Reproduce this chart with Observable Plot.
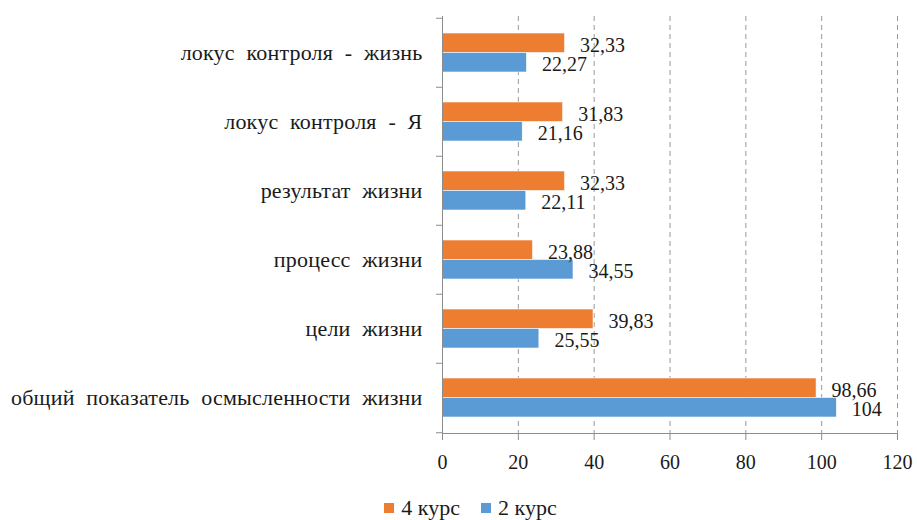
<!DOCTYPE html>
<html>
<head>
<meta charset="utf-8">
<script src="https://cdn.jsdelivr.net/npm/d3@7"></script>
<script src="https://cdn.jsdelivr.net/npm/@observablehq/plot@0.6"></script>
<style>
  body { margin: 0; background: #fff; }
  #chart svg { display: block; }
  .legend { display: flex; justify-content: center; gap: 21px; margin-top: 20px; padding-left: 24px;
            line-height: 26px; color: #1a1a1a; }
  .legend span.sw { display: inline-block; width: 10px; height: 10px; margin-right: 7px; vertical-align: 2px; }
</style>
</head>
<body>
<div id="chart"></div>
<script>
const categories = [
  "локус контроля - жизнь",
  "локус контроля - Я",
  "результат жизни",
  "процесс жизни",
  "цели жизни",
  "общий показатель осмысленности жизни"
];
const seriesNames = ["4 курс", "2 курс"];
const course4 = [32.33, 31.83, 32.33, 23.88, 39.83, 98.66];
const course2 = [22.27, 21.16, 22.11, 34.55, 25.55, 104];
const xTicks = [0, 20, 40, 60, 80, 100, 120];
const gridTicks = [20, 40, 60, 80, 100, 120];
const colors = ["#ED7D31", "#5B9BD5"];

const W = 917, H = 475, mTop = 16, mBottom = 42, mLeft = 442, mRight = 20;
const innerH = H - mTop - mBottom;
const step = innerH / categories.length;
const padInner = 0.44;
const half = (1 - padInner) * step / 2;
const tickLenData = 6 * 120 / (W - mLeft - mRight);

const rows4 = categories.map((c, i) => ({category: c, series: seriesNames[0], value: course4[i]}));
const rows2 = categories.map((c, i) => ({category: c, series: seriesNames[1], value: course2[i]}));
const fmt = v => String(v).replace(".", ",");

const axisColor = "#8c8c8c";
const textColor = "#1a1a1a";
const serif = "'Liberation Serif', serif";

const chart = Plot.plot({
  width: W, height: H,
  marginTop: mTop, marginBottom: mBottom, marginLeft: mLeft, marginRight: mRight,
  x: {domain: [0, 120], ticks: xTicks, label: null},
  y: {domain: categories, paddingInner: padInner, paddingOuter: padInner / 2, label: null},
  marks: [
    Plot.gridX(gridTicks, {stroke: "#999", strokeOpacity: 1, strokeDasharray: "5,4"}),
    Plot.barX(rows4, {y: "category", x: "value", fill: colors[0], insetBottom: half, insetTop: 0, stroke: "#fff", strokeWidth: 0.6}),
    Plot.barX(rows2, {y: "category", x: "value", fill: colors[1], insetTop: half, insetBottom: 0, stroke: "#fff", strokeWidth: 0.6}),
    Plot.text(rows4, {y: "category", x: "value", text: d => fmt(d.value), textAnchor: "start", dx: 15, dy: -half / 2 + 2, fill: textColor}),
    Plot.text(rows2, {y: "category", x: "value", text: d => fmt(d.value), textAnchor: "start", dx: 15, dy: half / 2 + 2, fill: textColor}),
    Plot.frame({anchor: "left", stroke: axisColor}),
    Plot.frame({anchor: "bottom", stroke: axisColor}),
    Plot.ruleY(categories, {y: d => d, x1: -tickLenData, x2: 0, dy: -step / 2, stroke: axisColor}),
    Plot.ruleY(categories.slice(-1), {y: d => d, x1: -tickLenData, x2: 0, dy: step / 2, stroke: axisColor}),
    Plot.axisX(xTicks, {tickSize: 7, tickPadding: 14, stroke: axisColor, fill: textColor, label: null}),
    Plot.axisY({tickSize: 0, tickPadding: 20, fill: textColor, label: null, ariaLabel: "y-axis"})
  ]
});
chart.querySelectorAll("text").forEach(t => {
  t.style.fontFamily = serif;
  t.style.fontSize = "20px";
});
chart.querySelectorAll("g[aria-label='y-axis tick label'] text").forEach(t => {
  t.style.fontSize = "22px";
  t.style.wordSpacing = "6px";
  t.style.letterSpacing = "0.2px";
});
document.getElementById("chart").appendChild(chart);

const legend = document.createElement("div");
legend.className = "legend";
legend.style.fontFamily = serif;
legend.style.fontSize = "22px";
seriesNames.forEach((s, i) => {
  const item = document.createElement("div");
  const sw = document.createElement("span");
  sw.className = "sw";
  sw.style.background = colors[i];
  item.appendChild(sw);
  item.appendChild(document.createTextNode(s));
  legend.appendChild(item);
});
document.body.appendChild(legend);
</script>
</body>
</html>
